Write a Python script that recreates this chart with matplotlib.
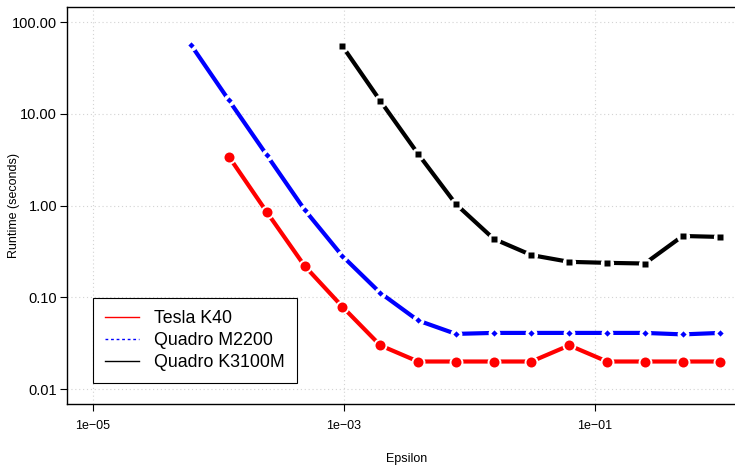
import matplotlib
matplotlib.use('Agg')
import matplotlib.pyplot as plt
import matplotlib as mpl
from matplotlib.lines import Line2D

mpl.rcParams['font.family'] = ['Liberation Sans', 'DejaVu Sans']

# epsilon values (powers of two)
eps_quadro_m = [6.103515625e-05, 1.220703125e-04, 2.44140625e-04, 4.8828125e-04,
                9.765625e-04, 1.953125e-03, 3.90625e-03, 7.8125e-03, 1.5625e-02,
                3.125e-02, 6.25e-02, 0.125, 0.25, 0.5, 1.0]
eps_tesla = [1.220703125e-04, 2.44140625e-04, 4.8828125e-04, 9.765625e-04,
             1.953125e-03, 3.90625e-03, 7.8125e-03, 1.5625e-02, 3.125e-02,
             6.25e-02, 0.125, 0.25, 0.5, 1.0]
eps_quadro_k = [9.765625e-04, 1.953125e-03, 3.90625e-03, 7.8125e-03, 1.5625e-02,
                3.125e-02, 6.25e-02, 0.125, 0.25, 0.5, 1.0]

# runtimes in seconds
rt_tesla = [3.4, 0.85, 0.22, 0.079, 0.030, 0.020, 0.020, 0.020, 0.020,
            0.030, 0.020, 0.020, 0.020, 0.020]
rt_quadro_m = [56, 14, 3.55, 0.90, 0.282, 0.112, 0.056, 0.040, 0.041, 0.041,
               0.041, 0.041, 0.041, 0.0395, 0.041]
rt_quadro_k = [54.7, 13.9, 3.67, 1.04, 0.435, 0.289, 0.244, 0.238, 0.234,
               0.467, 0.456]

labels = ['Tesla K40', 'Quadro M2200', 'Quadro K3100M']
colors = ['#ff0000', '#0000ff', '#000000']

fig = plt.figure(figsize=(7.35, 4.65), dpi=100)
ax = fig.add_axes([0.0918, 0.1316, 0.9226, 0.8523])
ax.set_xscale('log')
ax.set_yscale('log')
ax.set_xlim(10**-5.2, 10**0.2)
ax.set_ylim(10**-2.16, 10**2.16)

# grid first
ax.set_xticks([1e-5, 1e-3, 1e-1])
ax.set_xticklabels(['1e\u221205', '1e\u221203', '1e\u221201'])
ax.set_yticks([0.01, 0.1, 1, 10, 100])
ax.set_yticklabels(['0.01', '0.10', '1.00', '10.00', '100.00'])
ax.xaxis.set_minor_locator(mpl.ticker.NullLocator())
ax.yaxis.set_minor_locator(mpl.ticker.NullLocator())
ax.grid(color='#d3d3d3', linestyle=(0, (1, 2.5)), linewidth=0.8)
ax.set_axisbelow(True)

# series: line, white halo (gap like R type="b"), marker
series = [
    (eps_tesla, rt_tesla, colors[0], 'o', 7.2, 10.0),
    (eps_quadro_m, rt_quadro_m, colors[1], 'D', 3.2, 8.5),
    (eps_quadro_k, rt_quadro_k, colors[2], 's', 5.0, 9.5),
]
for x, y, c, m, ms, halo in series:
    ax.plot(x, y, color=c, lw=3.0, solid_capstyle='butt', zorder=2)
    ax.plot(x, y, ls='none', marker='o', ms=halo, mfc='white', mec='none',
            zorder=3)
    ax.plot(x, y, ls='none', marker=m, ms=ms, mfc=c, mec='none', zorder=4)

ax.spines['right'].set_visible(False)
for s in ['left', 'top', 'bottom']:
    ax.spines[s].set_linewidth(1.0)
ax.tick_params(axis='both', direction='out', length=5, width=0.8)
ax.tick_params(axis='y', labelsize=10.5, pad=2.5)
ax.tick_params(axis='x', labelsize=9, pad=7)

ax.set_xlabel('Epsilon', fontsize=9, va='center')
ax.xaxis.set_label_coords(0.5, -(459 - 403.8) / (403.8 - 7.5))
ax.set_ylabel('Runtime (seconds)', fontsize=9, va='center')
ax.yaxis.set_label_coords(-(67.5 - 14) / (745.6 - 67.5), 0.5)

handles = [Line2D([], [], color=colors[0], lw=1),
           Line2D([], [], color=colors[1], lw=1, ls=(0, (2, 2))),
           Line2D([], [], color=colors[2], lw=1)]
leg = ax.legend(handles, labels, loc='upper left',
                bbox_to_anchor=(92.7 / 735, 1 - 297.7 / 465),
                bbox_transform=fig.transFigure, borderaxespad=0,
                fontsize=12.8, handlelength=1.9, handletextpad=0.85,
                labelspacing=0.28, borderpad=0.68, fancybox=False,
                framealpha=1, edgecolor='black')
leg.get_frame().set_linewidth(0.8)

fig.savefig('out.png', dpi=100)
